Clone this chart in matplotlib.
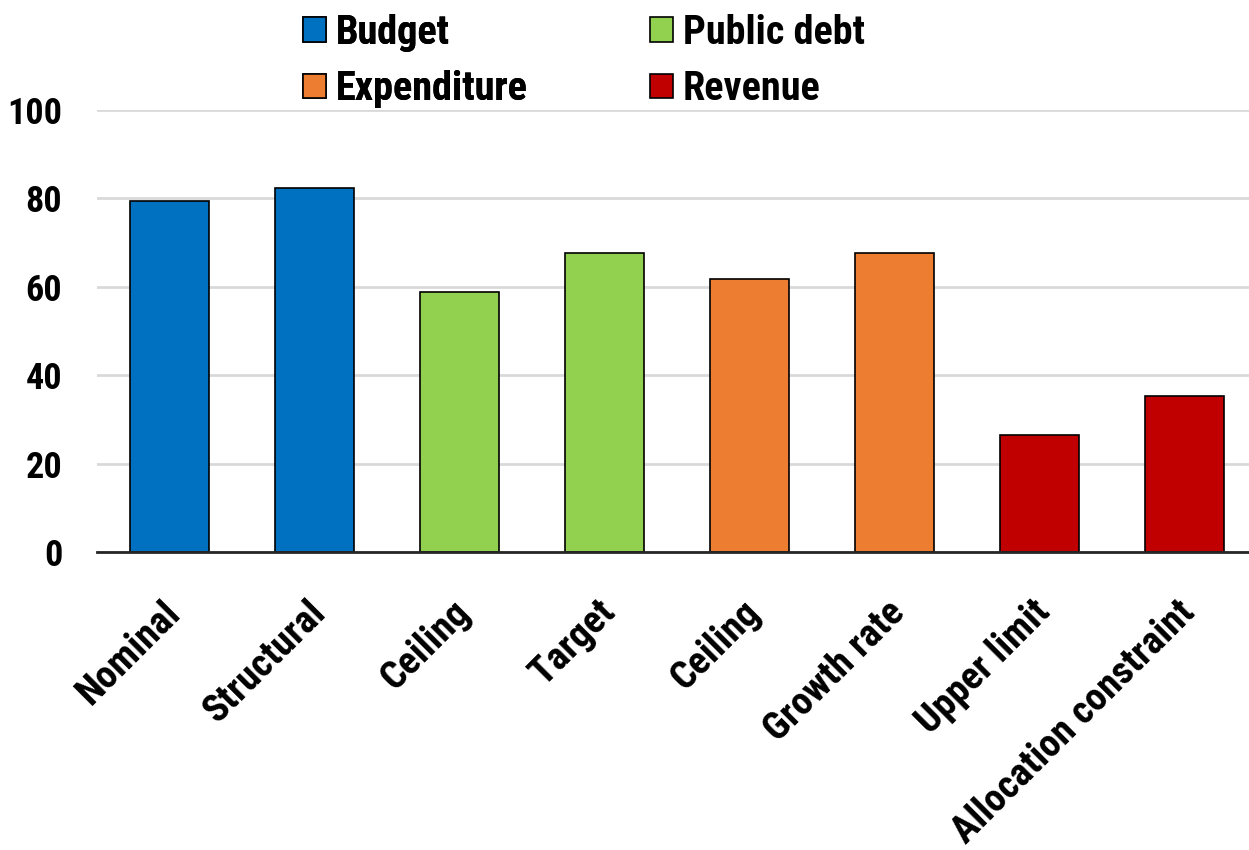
import matplotlib
matplotlib.use("Agg")
import matplotlib.pyplot as plt
import matplotlib.transforms as mtransforms
from matplotlib.patches import Patch

plt.rcParams['font.family'] = ['Liberation Sans Narrow', 'Roboto Condensed', 'DejaVu Sans']
plt.rcParams['font.weight'] = 'bold'

categories = ["Nominal", "Structural", "Ceiling", "Target", "Ceiling",
              "Growth rate", "Upper limit", "Allocation constraint"]
values = [79.4, 82.4, 58.8, 67.6, 61.8, 67.6, 26.5, 35.3]
groups = ["Budget", "Budget", "Public debt", "Public debt",
          "Expenditure", "Expenditure", "Revenue", "Revenue"]
group_colors = {"Budget": "#0070C0", "Public debt": "#92D050",
                "Expenditure": "#ED7D31", "Revenue": "#C00000"}

fig = plt.figure(figsize=(12.49, 8.5), dpi=100)
ax = fig.add_axes([97 / 1249, 1 - 552 / 850, 1160 / 1249, 442 / 850])

x = list(range(len(categories)))
ax.bar(x, values, width=0.55, color=[group_colors[g] for g in groups],
       edgecolor="black", linewidth=1.2, zorder=3)

ax.set_xlim(-0.5, len(categories) - 0.5)
ax.set_ylim(0, 100)
ax.set_yticks([0, 20, 40, 60, 80, 100])
ax.yaxis.grid(True, color="#D9D9D9", linewidth=2, zorder=0)
ax.set_axisbelow(True)

for side in ["left", "right", "top"]:
    ax.spines[side].set_visible(False)
ax.spines["bottom"].set_color("#262626")
ax.spines["bottom"].set_linewidth(2)
ax.spines["bottom"].set_zorder(4)

ax.tick_params(axis="y", length=0, labelsize=26, pad=25)
ax.tick_params(axis="x", length=0, labelsize=28, pad=30)
ax.set_xticks(x)
ax.set_xticklabels(categories, rotation=45, ha="right", va="top",
                   rotation_mode="anchor")
shift = mtransforms.ScaledTranslation(-8 / 100, 0, fig.dpi_scale_trans)
for lbl in ax.get_xticklabels():
    lbl.set_transform(lbl.get_transform() + shift)

# legend: two single-column blocks, group order reads down the columns
def legend_block(names, left):
    handles = [Patch(facecolor=group_colors[g], edgecolor="black",
                     linewidth=1.2, label=g) for g in names]
    leg = fig.legend(handles=handles, ncol=1, loc="upper left",
                     bbox_to_anchor=(left / 1249, 1 - 14 / 850), frameon=False,
                     fontsize=29, handlelength=0.56, handleheight=0.56,
                     handletextpad=0.25, labelspacing=0.45,
                     borderpad=0, borderaxespad=0)
    return leg

fig.add_artist(legend_block(["Budget", "Expenditure"], 303))
legend_block(["Public debt", "Revenue"], 650)

fig.savefig("out.png", dpi=100)
